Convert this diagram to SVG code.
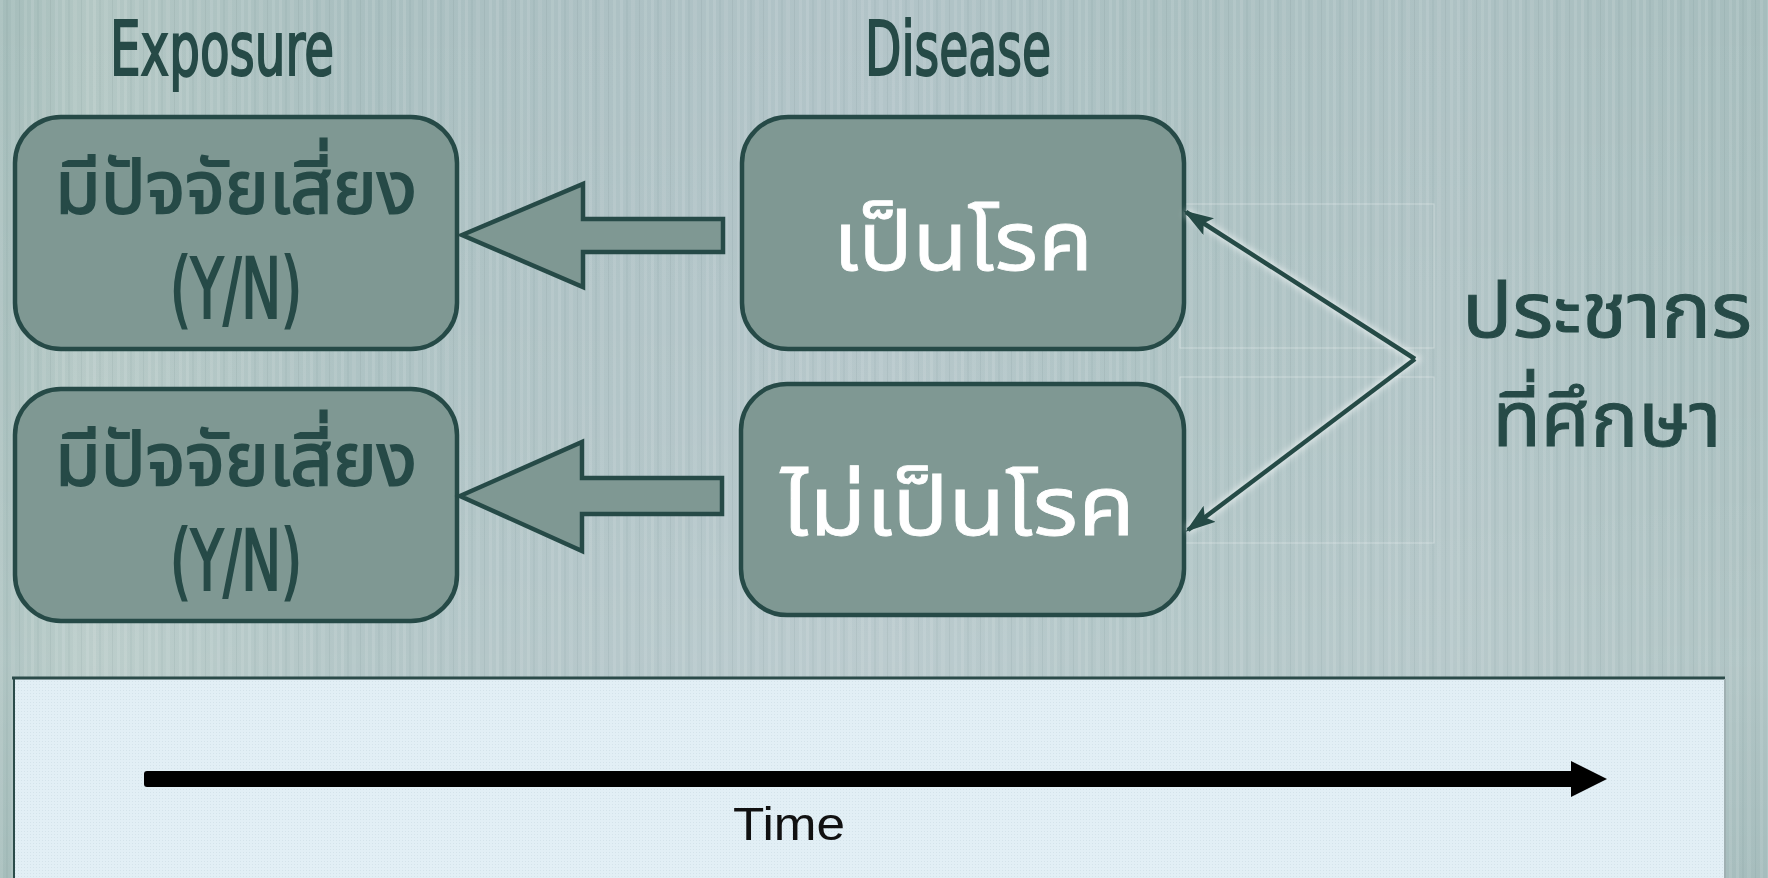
<svg xmlns="http://www.w3.org/2000/svg" width="1768" height="878" viewBox="0 0 1768 878">
  <style>
    .title { font-family: "Liberation Sans Narrow", "DejaVu Sans Condensed", "Liberation Sans", sans-serif; font-size: 75px; fill: #264a47; stroke: #264a47; stroke-width: 2; text-anchor: middle; }
    .thai-dark { font-family: "Noto Sans Thai", "Noto Sans Thai Looped", "Loma", "Garuda", "Noto Sans", sans-serif; font-size: 74px; fill: #264a47; stroke: #264a47; stroke-width: 1.8; text-anchor: middle; }
    .thai-pop { font-family: "Noto Sans Thai", "Noto Sans Thai Looped", "Loma", "Garuda", "Noto Sans", sans-serif; font-size: 76px; fill: #264a47; stroke: #264a47; stroke-width: 1; text-anchor: middle; }
    .thai-white { font-family: "Noto Sans Thai", "Noto Sans Thai Looped", "Loma", "Garuda", "Noto Sans", sans-serif; font-size: 82px; fill: #ffffff; stroke: #ffffff; stroke-width: 0.8; text-anchor: middle; }
    .yn { font-family: "Liberation Sans Narrow", "DejaVu Sans Condensed", "Liberation Sans", sans-serif; font-size: 84px; fill: #264a47; stroke: #264a47; stroke-width: 2.2; text-anchor: middle; }
    .box { fill: #7f9893; stroke: #264a47; stroke-width: 4.5; }
    .block { fill: #7f9893; stroke: #264a47; stroke-width: 4.5; stroke-linejoin: miter; }
    .link { fill: none; stroke: #254a46; stroke-width: 4.5; }
    .frame { fill: none; stroke: #ffffff; stroke-opacity: 0.35; stroke-width: 1; }
    .time { font-family: "Liberation Sans", Arial, sans-serif; font-size: 46px; fill: #111111; text-anchor: middle; }
  </style>
  <defs>
    <linearGradient id="bg" x1="0" y1="0" x2="1" y2="0">
      <stop offset="0" stop-color="#a5bdbb"/>
      <stop offset="0.05" stop-color="#b3c7c4"/>
      <stop offset="0.2" stop-color="#a9bfc0"/>
      <stop offset="0.35" stop-color="#adc1c4"/>
      <stop offset="0.5" stop-color="#b2c4c8"/>
      <stop offset="0.65" stop-color="#aac0c1"/>
      <stop offset="0.82" stop-color="#aec2c4"/>
      <stop offset="1" stop-color="#a6bdbd"/>
    </linearGradient>
    <linearGradient id="haze" x1="0" y1="0" x2="0" y2="1">
      <stop offset="0" stop-color="#ffffff" stop-opacity="0"/>
      <stop offset="0.55" stop-color="#ffffff" stop-opacity="0.08"/>
      <stop offset="0.75" stop-color="#ffffff" stop-opacity="0.12"/>
      <stop offset="1" stop-color="#ffffff" stop-opacity="0"/>
    </linearGradient>
    <pattern id="streaks" width="31" height="8" patternUnits="userSpaceOnUse">
      <rect x="0" y="0" width="3" height="8" fill="#ffffff" fill-opacity="0.10"/>
      <rect x="6" y="0" width="2" height="8" fill="#3d5a5a" fill-opacity="0.05"/>
      <rect x="11" y="0" width="4" height="8" fill="#ffffff" fill-opacity="0.07"/>
      <rect x="19" y="0" width="1" height="8" fill="#3d5a5a" fill-opacity="0.07"/>
      <rect x="24" y="0" width="3" height="8" fill="#ffffff" fill-opacity="0.09"/>
    </pattern>
    <pattern id="dots" width="3" height="3" patternUnits="userSpaceOnUse">
      <rect width="3" height="3" fill="#e2eff5"/>
      <rect width="1" height="1" fill="#d4e3ea"/>
    </pattern>
    <marker id="tip" markerUnits="userSpaceOnUse" markerWidth="30" markerHeight="20" refX="27" refY="10" orient="auto">
      <path d="M0,0 L30,10 L0,20 L6,10 Z" fill="#254a46"/>
    </marker>
    <filter id="glow" x="-10%" y="-10%" width="120%" height="120%">
      <feGaussianBlur stdDeviation="3"/>
    </filter>
  </defs>

  <!-- backdrop -->
  <rect x="0" y="0" width="1768" height="878" fill="url(#bg)"/>
  <rect x="0" y="0" width="1768" height="878" fill="url(#haze)"/>
  <rect x="0" y="0" width="1768" height="878" fill="url(#streaks)"/>

  <!-- column headings -->
  <text class="title" x="222" y="75" textLength="224" lengthAdjust="spacingAndGlyphs">Exposure</text>
  <text class="title" x="958" y="75" textLength="186" lengthAdjust="spacingAndGlyphs">Disease</text>

  <!-- faint guide frames beside the disease boxes -->
  <g id="frames">
    <rect class="frame" x="1180" y="204" width="254" height="144"/>
    <rect class="frame" x="1180" y="377" width="254" height="166"/>
  </g>

  <!-- exposure boxes -->
  <g id="exposure-yes">
    <rect class="box" x="15" y="117" width="442" height="232" rx="46" ry="46"/>
    <text class="thai-dark" x="236" y="213" textLength="362" lengthAdjust="spacingAndGlyphs">มีปัจจัยเสี่ยง</text>
    <text class="yn" x="236" y="318" textLength="132" lengthAdjust="spacingAndGlyphs">(Y/N)</text>
  </g>
  <g id="exposure-no">
    <rect class="box" x="15" y="389" width="442" height="232" rx="46" ry="46"/>
    <text class="thai-dark" x="236" y="485" textLength="362" lengthAdjust="spacingAndGlyphs">มีปัจจัยเสี่ยง</text>
    <text class="yn" x="236" y="590" textLength="132" lengthAdjust="spacingAndGlyphs">(Y/N)</text>
  </g>

  <!-- disease boxes -->
  <g id="disease-yes">
    <rect class="box" x="742" y="117" width="442" height="232" rx="46" ry="46"/>
    <text class="thai-white" x="963" y="270" textLength="260" lengthAdjust="spacingAndGlyphs">เป็นโรค</text>
  </g>
  <g id="disease-no">
    <rect class="box" x="741" y="384" width="443" height="231" rx="46" ry="46"/>
    <text class="thai-white" x="958" y="535" textLength="354" lengthAdjust="spacingAndGlyphs">ไม่เป็นโรค</text>
  </g>

  <!-- study population -->
  <g id="population">
    <text class="thai-pop" x="1607" y="337" textLength="290" lengthAdjust="spacingAndGlyphs">ประชากร</text>
    <text class="thai-pop" x="1607" y="446" textLength="229" lengthAdjust="spacingAndGlyphs">ที่ศึกษา</text>
  </g>

  <!-- connectors -->
  <g id="connectors">
    <polygon class="block" points="462,235 583,184 583,219 723,219 723,252 583,252 583,287"/>
    <polygon class="block" points="460,496 582,442 582,478 722,478 722,514 582,514 582,551"/>
    <polyline points="1186,212 1415,359 1188,530" fill="none" stroke="#ffffff" stroke-opacity="0.6" stroke-width="8" filter="url(#glow)"/>
    <line class="link" x1="1415" y1="359" x2="1186" y2="212" marker-end="url(#tip)"/>
    <line class="link" x1="1415" y1="359" x2="1188" y2="530" marker-end="url(#tip)"/>
  </g>

  <!-- timeline panel -->
  <g id="timeline">
    <rect x="13" y="677" width="1712" height="210" fill="url(#dots)"/>
    <line x1="12" y1="678" x2="1725" y2="678" stroke="#2b4b49" stroke-width="3"/>
    <line x1="14" y1="677" x2="14" y2="878" stroke="#2b4b49" stroke-width="2"/>
    <line x1="1725" y1="679" x2="1725" y2="878" stroke="#9fb0b2" stroke-width="2"/>
    <rect x="144" y="771" width="1430" height="16" rx="3" fill="#000000"/>
    <polygon points="1571,761 1607,779 1571,797" fill="#000000"/>
    <text class="time" x="789" y="840" textLength="112" lengthAdjust="spacingAndGlyphs">Time</text>
  </g>
</svg>
